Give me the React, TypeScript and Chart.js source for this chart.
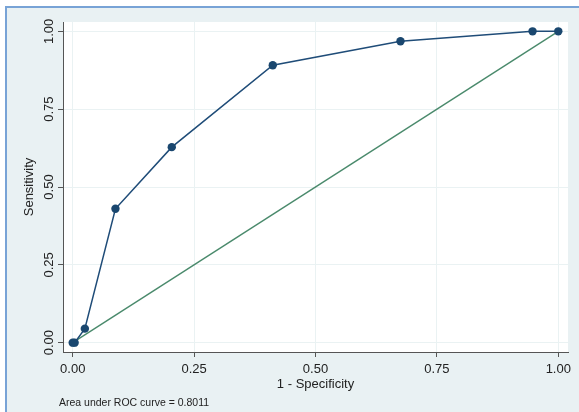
import React, { useEffect, useRef } from 'react';
import { Chart, registerables } from 'chart.js';

Chart.register(...registerables);

// ROC curve points (1 - specificity, sensitivity)
const rocX = [0, 0.004, 0.025, 0.088, 0.204, 0.412, 0.675, 0.947, 1];
const rocY = [0, 0, 0.045, 0.43, 0.628, 0.891, 0.968, 1, 1];
// Reference (chance) line
const refX = [0, 1];
const refY = [0, 1];
// Axis ticks
const tickValues = [0, 0.25, 0.5, 0.75, 1];
const tickLabels = ['0.00', '0.25', '0.50', '0.75', '1.00'];
const xTitle = '1 - Specificity';
const yTitle = 'Sensitivity';
const noteText = 'Area under ROC curve = 0.8011';

const FONT = "'Liberation Sans', Arial, sans-serif";

export default function App() {
  const canvasRef = useRef<HTMLCanvasElement | null>(null);

  useEffect(() => {
    if (!canvasRef.current) return;

    const bgPlugin = {
      id: 'plotBg',
      beforeDraw(chart: any) {
        const { ctx, chartArea } = chart;
        ctx.save();
        ctx.fillStyle = '#ffffff';
        ctx.fillRect(chartArea.left, chartArea.top, chartArea.right - chartArea.left, chartArea.bottom - chartArea.top);
        ctx.restore();
      },
    };

    const notePlugin = {
      id: 'note',
      afterDraw(chart: any) {
        const { ctx } = chart;
        ctx.save();
        ctx.font = `10.5px ${FONT}`;
        ctx.fillStyle = '#222222';
        ctx.textAlign = 'left';
        ctx.textBaseline = 'middle';
        ctx.fillText(noteText, 59, 403);
        ctx.restore();
      },
    };

    const setTicks = (scale: any) => {
      scale.ticks = tickValues.map((v) => ({ value: v }));
    };
    const fmt = (v: any) => {
      const i = tickValues.indexOf(Number(v));
      return i >= 0 ? tickLabels[i] : '';
    };

    const chart = new Chart(canvasRef.current, {
      type: 'scatter',
      data: {
        datasets: [
          {
            label: 'ROC',
            data: rocX.map((x, i) => ({ x, y: rocY[i] })),
            showLine: true,
            borderColor: '#1f4c78',
            backgroundColor: '#1a476f',
            borderWidth: 1.5,
            pointRadius: 4.2,
            pointBorderWidth: 0,
            pointBackgroundColor: '#1a476f',
          },
          {
            label: 'Reference',
            data: refX.map((x, i) => ({ x, y: refY[i] })),
            showLine: true,
            borderColor: '#4a8a6c',
            borderWidth: 1.4,
            pointRadius: 0,
          },
        ],
      },
      options: {
        animation: false,
        responsive: false,
        maintainAspectRatio: false,
        layout: { padding: { left: 0, top: 22, right: 11, bottom: 20 } },
        plugins: {
          legend: { display: false },
          tooltip: { enabled: false },
        },
        scales: {
          x: {
            type: 'linear',
            min: -0.02,
            max: 1.02,
            afterBuildTicks: setTicks,
            afterFit: (s: any) => {
              s.height = 40;
            },
            ticks: {
              callback: fmt,
              font: { family: FONT, size: 13 },
              color: '#222222',
              padding: 5,
              maxRotation: 0,
            },
            grid: {
              color: '#eaf2f3',
              lineWidth: 1,
              tickColor: '#555555',
              tickLength: 5,
            },
            border: { display: true, color: '#555555', width: 1 },
            title: {
              display: true,
              text: xTitle,
              font: { family: FONT, size: 13 },
              color: '#222222',
              padding: { top: 0, bottom: 0 },
            },
          },
          y: {
            type: 'linear',
            min: -0.03,
            max: 1.03,
            afterBuildTicks: setTicks,
            afterFit: (s: any) => {
              s.width = 63;
            },
            ticks: {
              callback: fmt,
              font: { family: FONT, size: 13 },
              color: '#222222',
              padding: -4,
              minRotation: 90,
              maxRotation: 90,
              crossAlign: 'center',
            },
            grid: {
              color: '#eaf2f3',
              lineWidth: 1,
              tickColor: '#555555',
              tickLength: 5,
            },
            border: { display: true, color: '#555555', width: 1 },
            title: {
              display: true,
              text: yTitle,
              font: { family: FONT, size: 13 },
              color: '#222222',
              padding: { top: 22, bottom: 0 },
            },
          },
        },
      },
      plugins: [bgPlugin, notePlugin],
    } as any);

    return () => {
      chart.destroy();
    };
  }, []);

  return (
    <div style={{ position: 'fixed', left: 0, top: 0, width: 579, height: 412, background: '#ffffff', overflow: 'hidden' }}>
      <div
        style={{
          position: 'absolute',
          left: 5,
          top: 6,
          right: -10,
          bottom: -10,
          background: '#e9f1f3',
          borderLeft: '2px solid #78a3d6',
          borderTop: '2px solid #78a3d6',
        }}
      />
      <canvas
        ref={canvasRef}
        width={579}
        height={412}
        style={{ position: 'absolute', left: 0, top: 0, width: 579, height: 412 }}
      />
    </div>
  );
}
